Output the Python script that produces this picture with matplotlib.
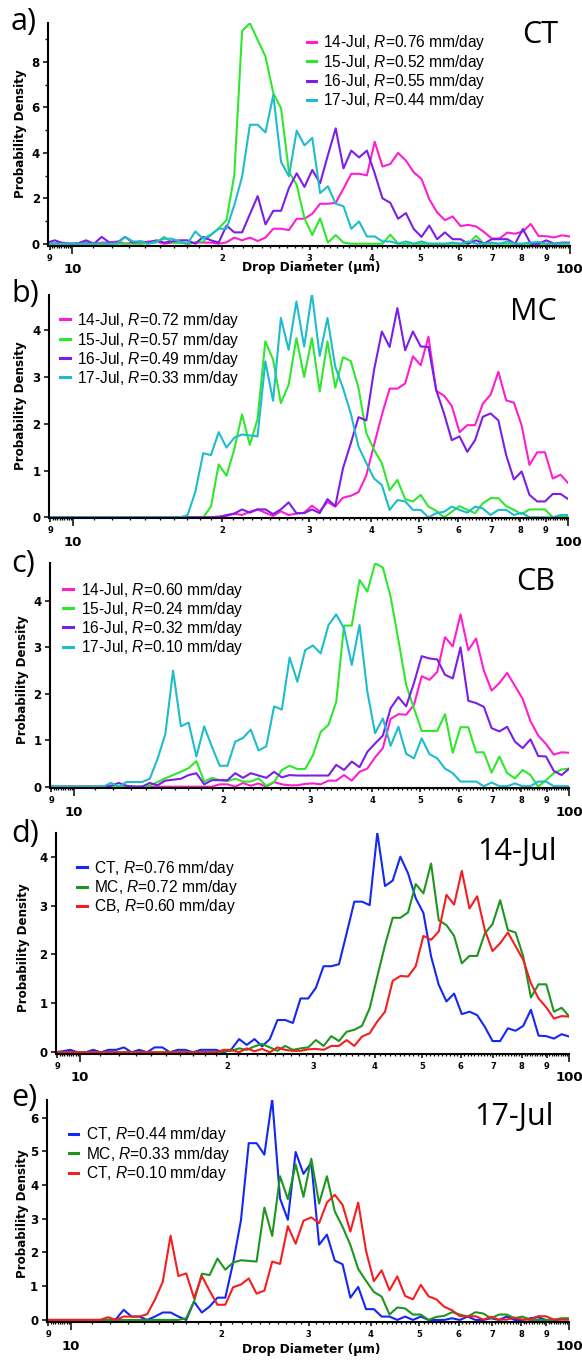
import numpy as np
import matplotlib
matplotlib.use('Agg')
import matplotlib.pyplot as plt
from matplotlib.lines import Line2D
from matplotlib.ticker import FixedLocator, FixedFormatter, NullFormatter

plt.rcParams.update({
    'font.family': 'DejaVu Sans',
    'mathtext.fontset': 'custom',
    'mathtext.rm': 'Liberation Sans',
    'mathtext.it': 'Liberation Sans:italic',
    'axes.linewidth': 1.5,
})

W, H = 582, 1361

# drop size bins (um), log spaced
diam = np.geomspace(8.89, 100, 68)

# ---- CT ----
ct_14 = [0.0, 0.02, 0.05, 0.0, 0.0, 0.05, 0.0, 0.05, 0.05, 0.1,
         0.0, 0.05, 0.0, 0.1, 0.1, 0.0, 0.05, 0.05, 0.0, 0.05,
         0.05, 0.05, 0.0, 0.06, 0.27, 0.15, 0.27, 0.12, 0.27, 0.66,
         0.66, 0.6, 1.1, 1.1, 1.32, 1.76, 1.76, 1.8, 2.43, 3.08,
         3.08, 3.01, 4.49, 3.4, 3.51, 4.0, 3.66, 3.15, 2.85, 1.96,
         1.38, 1.04, 1.2, 0.78, 0.83, 0.76, 0.52, 0.23, 0.23, 0.49,
         0.44, 0.54, 0.87, 0.34, 0.33, 0.28, 0.37, 0.32]
ct_15 = [0, 0, 0, 0, 0, 0, 0, 0, 0, 0,
         0, 0, 0, 0.02, 0.05, 0.3, 0.05, 0.05, 0, 0.05,
         0.1, 0.38, 0.68, 1.04, 3.03, 9.37, 9.71, 8.97, 8.24, 6.63,
         5.96, 3.17, 2.59, 1.12, 0.38, 1.12, 0.05, 0.38, 0.05, 0,
         0, 0, 0, 0, 0.4, 0, 0, 0, 0, 0,
         0, 0, 0, 0, 0, 0.35, 0, 0, 0, 0,
         0, 0, 0, 0, 0, 0, 0, 0]
ct_16 = [0.05, 0.15, 0.02, 0.0, 0.02, 0.15, 0.0, 0.3, 0.05, 0.05,
         0.3, 0.05, 0.1, 0.05, 0.15, 0.05, 0.1, 0.15, 0.15, 0.0,
         0.3, 0.15, 0.05, 0.8, 0.5, 0.5, 1.3, 2.1, 0.85, 1.45,
         1.45, 2.45, 3.1, 2.5, 3.25, 2.66, 3.9, 5.08, 3.32, 4.1,
         3.8, 4.1, 3.1, 2.0, 1.8, 1.1, 1.35, 0.65, 0.3, 0.8,
         0.2, 0.5, 0.2, 0.2, 0.0, 0.15, 0.0, 0.2, 0.2, 0.2,
         0.0, 0.65, 0.0, 0.0, 0.15, 0.0, 0.05, 0.05]
ct_17 = [0, 0, 0, 0, 0, 0, 0, 0, 0, 0.02,
         0.3, 0.1, 0.1, 0.0, 0.1, 0.22, 0.22, 0.1, 0.0, 0.54,
         0.22, 0.4, 0.66, 0.66, 1.7, 2.95, 5.24, 5.24, 4.9, 6.55,
         3.6, 2.97, 4.98, 4.33, 4.66, 2.23, 2.53, 1.76, 1.65, 0.66,
         0.98, 0.32, 0.32, 0.1, 0.1, 0.0, 0.1, 0.0, 0.1, 0.0,
         0.0, 0.0, 0.05, 0.0, 0.1, 0.0, 0.0, 0.05, 0.0, 0.1,
         0.0, 0.0, 0.05, 0.08, 0.0, 0.0, 0.02, 0.02]

# ---- MC ----
mc_14 = [0, 0, 0, 0, 0, 0, 0, 0, 0, 0,
         0, 0, 0, 0, 0, 0, 0, 0, 0, 0,
         0, 0, 0.02, 0.03, 0.08, 0.05, 0.12, 0.17, 0.1, 0.03,
         0.13, 0.05, 0.08, 0.1, 0.25, 0.13, 0.33, 0.23, 0.42, 0.46,
         0.54, 0.9, 1.55, 2.19, 2.75, 2.75, 2.86, 3.44, 3.25, 3.86,
         2.7, 2.6, 2.38, 1.82, 1.97, 1.97, 2.43, 2.62, 3.11, 2.5,
         2.45, 1.96, 1.12, 1.39, 1.39, 0.83, 0.91, 0.73]
mc_15 = [0, 0, 0, 0, 0, 0, 0, 0, 0, 0,
         0, 0, 0, 0, 0, 0, 0, 0, 0, 0,
         0, 0.23, 1.13, 0.89, 1.45, 2.2, 1.55, 2.1, 3.76, 3.37,
         2.44, 2.83, 3.83, 3.0, 3.83, 2.69, 3.76, 2.77, 3.42, 3.34,
         2.76, 1.8, 1.44, 1.16, 0.58, 0.8, 0.39, 0.34, 0.48, 0.23,
         0.14, 0.0, 0.12, 0.24, 0.16, 0.09, 0.3, 0.41, 0.41, 0.24,
         0.16, 0.07, 0.17, 0.17, 0.17, 0.0, 0.01, 0.03]
mc_16 = [0, 0, 0, 0, 0, 0, 0, 0, 0, 0,
         0, 0, 0, 0, 0, 0, 0, 0, 0, 0,
         0, 0, 0, 0.05, 0.08, 0.17, 0.1, 0.17, 0.17, 0.07,
         0.17, 0.32, 0.09, 0.09, 0.17, 0.09, 0.39, 0.24, 1.05, 1.58,
         2.14, 2.07, 3.15, 3.97, 3.64, 4.47, 3.57, 3.97, 3.65, 3.64,
         2.72, 2.22, 1.65, 1.73, 1.4, 1.65, 2.15, 2.22, 2.07, 1.33,
         0.81, 0.98, 0.48, 0.34, 0.34, 0.5, 0.5, 0.39]
mc_17 = [0, 0, 0, 0, 0, 0, 0, 0, 0, 0,
         0, 0, 0, 0, 0, 0, 0, 0, 0.05, 0.55,
         1.37, 1.33, 1.82, 1.49, 1.7, 1.77, 1.75, 1.73, 3.33, 2.49,
         4.26, 3.58, 4.61, 3.65, 4.78, 3.45, 4.26, 3.22, 2.76, 2.22,
         1.51, 1.16, 0.83, 0.69, 0.16, 0.37, 0.34, 0.16, 0.16, 0.0,
         0.09, 0.12, 0.23, 0.16, 0.1, 0.23, 0.19, 0.05, 0.16, 0.16,
         0.05, 0.1, 0, 0, 0, 0, 0.05, 0.05]

# ---- CB ----
cb_14 = [0, 0, 0, 0, 0, 0, 0, 0, 0, 0,
         0, 0, 0, 0, 0, 0, 0, 0, 0, 0,
         0, 0, 0.05, 0.05, 0.0, 0.08, 0.02, 0.07, 0.0, 0.1,
         0.05, 0.03, 0.03, 0.06, 0.07, 0.05, 0.13, 0.13, 0.25, 0.13,
         0.32, 0.39, 0.63, 0.83, 1.46, 1.56, 1.55, 1.76, 2.38, 2.3,
         2.47, 3.22, 3.02, 3.71, 2.94, 3.19, 2.5, 2.07, 2.23, 2.45,
         2.17, 1.89, 1.41, 1.1, 0.92, 0.69, 0.74, 0.73]
cb_15 = [0, 0, 0, 0, 0, 0, 0, 0, 0, 0,
         0, 0, 0, 0.02, 0.1, 0.18, 0.25, 0.32, 0.4, 0.55,
         0.11, 0.19, 0.14, 0.12, 0.17, 0.11, 0.11, 0.18, 0.02, 0.1,
         0.36, 0.45, 0.38, 0.38, 0.68, 1.18, 1.33, 1.83, 3.47, 3.47,
         4.45, 4.2, 4.81, 4.72, 4.09, 3.16, 2.19, 1.69, 1.2, 1.2,
         1.2, 1.56, 0.73, 1.28, 1.28, 0.74, 0.74, 0.3, 0.65, 0.29,
         0.18, 0.36, 0.25, 0.0, 0.14, 0.29, 0.37, 0.39]
cb_16 = [0, 0, 0, 0, 0, 0, 0, 0, 0.02, 0.08,
         0.02, 0, 0, 0.08, 0.03, 0.13, 0.15, 0.17, 0.25, 0.29,
         0.05, 0.14, 0.14, 0.14, 0.29, 0.19, 0.29, 0.24, 0.19, 0.32,
         0.2, 0.25, 0.24, 0.24, 0.24, 0.24, 0.24, 0.47, 0.36, 0.54,
         0.42, 0.75, 0.93, 1.1, 1.69, 1.93, 1.73, 2.23, 2.81, 2.76,
         2.74, 2.41, 2.33, 3.0, 1.85, 1.8, 1.72, 1.26, 1.19, 1.29,
         0.97, 0.83, 1.02, 0.66, 0.65, 0.34, 0.25, 0.39]
cb_17 = [0, 0, 0, 0, 0, 0, 0, 0, 0.08, 0,
         0.1, 0.1, 0.1, 0.17, 0.6, 1.13, 2.5, 1.3, 1.38, 0.65,
         1.3, 0.86, 0.45, 0.45, 0.97, 1.05, 1.23, 0.78, 0.87, 1.73,
         1.66, 2.78, 2.26, 2.94, 3.04, 2.87, 3.48, 3.71, 3.41, 2.62,
         3.48, 2.05, 1.15, 1.47, 0.88, 1.29, 0.71, 0.61, 1.04, 0.7,
         0.61, 0.39, 0.29, 0.11, 0.11, 0.11, 0.01, 0.09, 0.01, 0.01,
         0.07, 0.01, 0.01, 0.11, 0.11, 0.01, 0.01, 0.01]

days = ['14-Jul', '15-Jul', '16-Jul', '17-Jul']
rain_ct = [0.76, 0.52, 0.55, 0.44]
rain_mc = [0.72, 0.57, 0.49, 0.33]
rain_cb = [0.60, 0.24, 0.32, 0.10]
rain_14 = [0.76, 0.72, 0.60]
rain_17 = [0.44, 0.33, 0.10]
sites_14 = ['CT', 'MC', 'CB']
sites_17 = ['CT', 'MC', 'CT']

day_colors = ['#FF1ECF', '#2EE82E', '#7B1FE8', '#1EBCCC']
site_colors = ['#1428F5', '#1E961E', '#F51E1E']

xt_pos = [9, 10, 20, 30, 40, 50, 60, 70, 80, 90, 100]
xt_lab = ['9', '10', '2', '3', '4', '5', '6', '7', '8', '9', '100']
xt_minor = [9 + k / 10 for k in range(1, 10)] + \
           [d for d in range(11, 100) if d % 10 != 0]


def lab(name, r):
    return f'{name}, $R$={r:.2f} mm/day'


panels = [
    dict(box=(48.3, 23, 569.7, 246), ylim=(-0.1, 9.72), ymaj=[0, 2, 4, 6, 8],
         ymin=[1, 3, 5, 7, 9], series=[ct_14, ct_15, ct_16, ct_17], colors=day_colors,
         labels=[lab(d, r) for d, r in zip(days, rain_ct)],
         leg=(307, 316, 323.3, [41.7, 61, 80.7, 100]),
         letter=('a)', 30), site=('CT', 558, 43), ylab=(20.5, 134), xlab=267),
    dict(box=(49, 295, 568.3, 518.3), ylim=(-0.02, 4.75), ymaj=[0, 1, 2, 3, 4],
         ymin=[], series=[mc_14, mc_15, mc_16, mc_17], colors=day_colors,
         labels=[lab(d, r) for d, r in zip(days, rain_mc)],
         leg=(60, 70, 77.3, [319.3, 339, 358.3, 377.3]),
         letter=('b)', 301.7), site=('MC', 556.7, 320), ylab=(20.5, 406), xlab=None),
    dict(box=(50, 563.3, 569.3, 788.3), ylim=(-0.035, 4.81), ymaj=[0, 1, 2, 3, 4],
         ymin=[], series=[cb_14, cb_15, cb_16, cb_17], colors=day_colors,
         labels=[lab(d, r) for d, r in zip(days, rain_cb)],
         leg=(63.3, 72.7, 81, [589.3, 608.3, 627.3, 646.7]),
         letter=('c)', 571.7), site=('CB', 555, 590), ylab=(23, 680), xlab=None),
    dict(box=(56, 832.7, 569.3, 1054), ylim=(-0.035, 4.49), ymaj=[0, 1, 2, 3, 4],
         ymin=[], series=[ct_14, mc_14, cb_14], colors=site_colors,
         labels=[lab(s, r) for s, r in zip(sites_14, rain_14)],
         leg=(77.3, 87.3, 94.3, [867.3, 886.7, 906]),
         letter=('d)', 841.7), site=('14-Jul', 556.7, 860), ylab=(24, 948), xlab=None),
    dict(box=(46.7, 1100, 569.3, 1322.3), ylim=(-0.07, 6.52), ymaj=[0, 1, 2, 3, 4, 5, 6],
         ymin=[], series=[ct_17, mc_17, cb_17], colors=site_colors,
         labels=[lab(s, r) for s, r in zip(sites_17, rain_17)],
         leg=(69, 78.3, 86, [1134, 1153.3, 1172.7]),
         letter=('e)', 1106), site=('17-Jul', 553.3, 1125), ylab=(22.5, 1214), xlab=1350),
]

fig = plt.figure(figsize=(W / 100, H / 100), dpi=100)


def fx(x):
    return x / W


def fy(y):
    return 1 - y / H


for p in panels:
    L, T, R, B = p['box']
    ax = fig.add_axes([fx(L), fy(B), (R - L) / W, (B - T) / H])
    for vals, col in zip(p['series'], p['colors']):
        ax.plot(diam, vals, color=col, lw=1.5)

    ax.set_xscale('log')
    ax.set_xlim(8.94, 100)
    ax.set_ylim(*p['ylim'])
    ax.spines['top'].set_visible(False)
    ax.spines['right'].set_visible(False)

    ax.xaxis.set_major_locator(FixedLocator(xt_pos))
    ax.xaxis.set_major_formatter(FixedFormatter(xt_lab))
    ax.xaxis.set_minor_locator(FixedLocator(xt_minor))
    ax.xaxis.set_minor_formatter(NullFormatter())
    ax.tick_params(axis='x', which='major', direction='out', width=1.1,
                   length=2.9, labelsize=6, pad=2.6)
    ax.tick_params(axis='x', which='minor', direction='out', width=0.9, length=1.5)
    for t, v in zip(ax.xaxis.get_major_ticks(), xt_pos):
        t.label1.set_fontweight('bold')
        if v in (10, 100):
            t.set_pad(9.6)
            t.tick1line.set_markersize(5.5)
            t.label1.set_fontsize(9.5)

    ax.set_yticks(p['ymaj'])
    ax.set_yticks(p['ymin'], minor=True)
    ax.tick_params(axis='y', which='major', direction='out', width=1.1,
                   length=3.6, labelsize=8.5, pad=2.5)
    ax.tick_params(axis='y', which='minor', direction='out', width=1.0, length=2.2)
    for t in ax.yaxis.get_major_ticks():
        t.label1.set_fontweight('bold')

    # legend drawn by hand
    x0, x1, xt, rows = p['leg']
    for col, text, yr in zip(p['colors'], p['labels'], rows):
        fig.add_artist(Line2D([fx(x0), fx(x1)], [fy(yr), fy(yr)],
                              transform=fig.transFigure, color=col, lw=2.2))
        fig.text(fx(xt), fy(yr + 5.5), text, fontsize=11.2, family='Liberation Sans',
                 ha='left', va='baseline')

    letter, ly = p['letter']
    fig.text(fx(11), fy(ly), letter, fontsize=22, family='Open Sans',
             ha='left', va='baseline')
    site, sx, sy = p['site']
    fig.text(fx(sx), fy(sy), site, fontsize=22, family='Open Sans',
             ha='right', va='baseline')
    yx, yy = p['ylab']
    fig.text(fx(yx), fy(yy), 'Probability Density', rotation=90, fontsize=8.6,
             fontweight='bold', ha='center', va='center')
    if p['xlab'] is not None:
        fig.text(fx(311), fy(p['xlab']), 'Drop Diameter (\u00b5m)', fontsize=8.8,
                 fontweight='bold', ha='center', va='center')

fig.savefig('out.png', dpi=100)
